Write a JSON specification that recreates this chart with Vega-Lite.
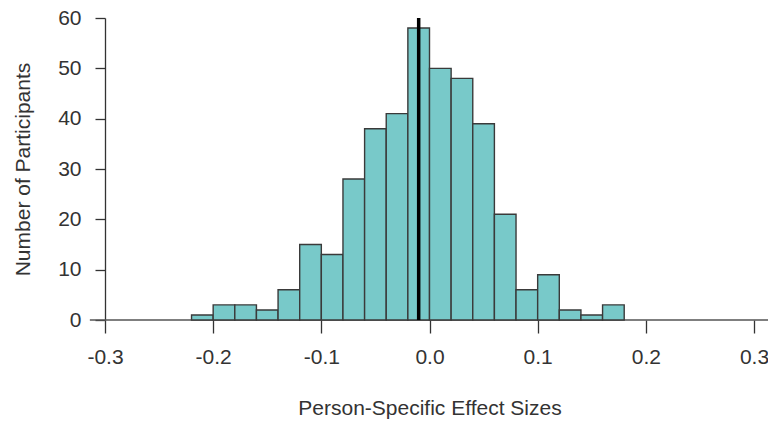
{
  "$schema": "https://vega.github.io/schema/vega-lite/v6.json",
  "autosize": "none",
  "width": 649,
  "height": 302,
  "padding": {"left": 105, "top": 18, "right": 14, "bottom": 103},
  "background": "white",
  "config": {"view": {"stroke": null}, "font": "Liberation Sans"},
  "datasets": {
    "bins": [
      {"start": -0.22, "end": -0.20, "count": 1},
      {"start": -0.20, "end": -0.18, "count": 3},
      {"start": -0.18, "end": -0.16, "count": 3},
      {"start": -0.16, "end": -0.14, "count": 2},
      {"start": -0.14, "end": -0.12, "count": 6},
      {"start": -0.12, "end": -0.10, "count": 15},
      {"start": -0.10, "end": -0.08, "count": 13},
      {"start": -0.08, "end": -0.06, "count": 28},
      {"start": -0.06, "end": -0.04, "count": 38},
      {"start": -0.04, "end": -0.02, "count": 41},
      {"start": -0.02, "end": 0.00, "count": 58},
      {"start": 0.00, "end": 0.02, "count": 50},
      {"start": 0.02, "end": 0.04, "count": 48},
      {"start": 0.04, "end": 0.06, "count": 39},
      {"start": 0.06, "end": 0.08, "count": 21},
      {"start": 0.08, "end": 0.10, "count": 6},
      {"start": 0.10, "end": 0.12, "count": 9},
      {"start": 0.12, "end": 0.14, "count": 2},
      {"start": 0.14, "end": 0.16, "count": 1},
      {"start": 0.16, "end": 0.18, "count": 3}
    ],
    "baseline": [{"x1": -0.314, "x2": 0.313, "y": 0}],
    "mean": [{"x": -0.01, "y1": 0, "y2": 60}]
  },
  "layer": [
    {
      "data": {"name": "baseline"},
      "mark": {"type": "rule", "color": "#555555", "strokeWidth": 1.5, "clip": false},
      "encoding": {
        "x": {"field": "x1", "type": "quantitative"},
        "x2": {"field": "x2"},
        "y": {"field": "y", "type": "quantitative"}
      }
    },
    {
      "data": {"name": "bins"},
      "mark": {"type": "rect", "fill": "#78C9C9", "stroke": "#3a3a3a", "strokeWidth": 1.4},
      "encoding": {
        "x": {
          "field": "start", "type": "quantitative",
          "scale": {"domain": [-0.3, 0.3], "nice": false, "zero": false},
          "axis": {
            "title": "Person-Specific Effect Sizes",
            "values": [-0.3, -0.2, -0.1, 0, 0.1, 0.2, 0.3],
            "labelExpr": "(datum.value < 0 ? '-' : '') + format(abs(datum.value), '.1f')",
            "grid": false,
            "domain": false,
            "tickColor": "#333333",
            "tickSize": 13,
            "tickWidth": 1.3,
            "labelFont": "Liberation Sans",
            "labelFontSize": 21,
            "labelColor": "#333333",
            "labelPadding": 13,
            "labelFlush": false,
            "titleFont": "Liberation Sans",
            "titleFontSize": 21,
            "titleFontWeight": "normal",
            "titleColor": "#333333",
            "titlePadding": 30
          }
        },
        "x2": {"field": "end"},
        "y": {
          "field": "count", "type": "quantitative",
          "scale": {"domain": [0, 60], "nice": false},
          "axis": {
            "title": "Number of Participants",
            "values": [0, 10, 20, 30, 40, 50, 60],
            "grid": false,
            "domainColor": "#333333",
            "domainWidth": 1.3,
            "tickColor": "#333333",
            "tickSize": 10,
            "tickWidth": 1.3,
            "labelFont": "Liberation Sans",
            "labelFontSize": 21,
            "labelColor": "#333333",
            "labelPadding": 14,
            "labelFlush": false,
            "titleFont": "Liberation Sans",
            "titleFontSize": 21,
            "titleFontWeight": "normal",
            "titleColor": "#333333",
            "titlePadding": 24
          }
        },
        "y2": {"datum": 0}
      }
    },
    {
      "data": {"name": "mean"},
      "mark": {"type": "rule", "color": "#000000", "strokeWidth": 3.5},
      "encoding": {
        "x": {"field": "x", "type": "quantitative"},
        "y": {"field": "y1", "type": "quantitative"},
        "y2": {"field": "y2"}
      }
    }
  ]
}
